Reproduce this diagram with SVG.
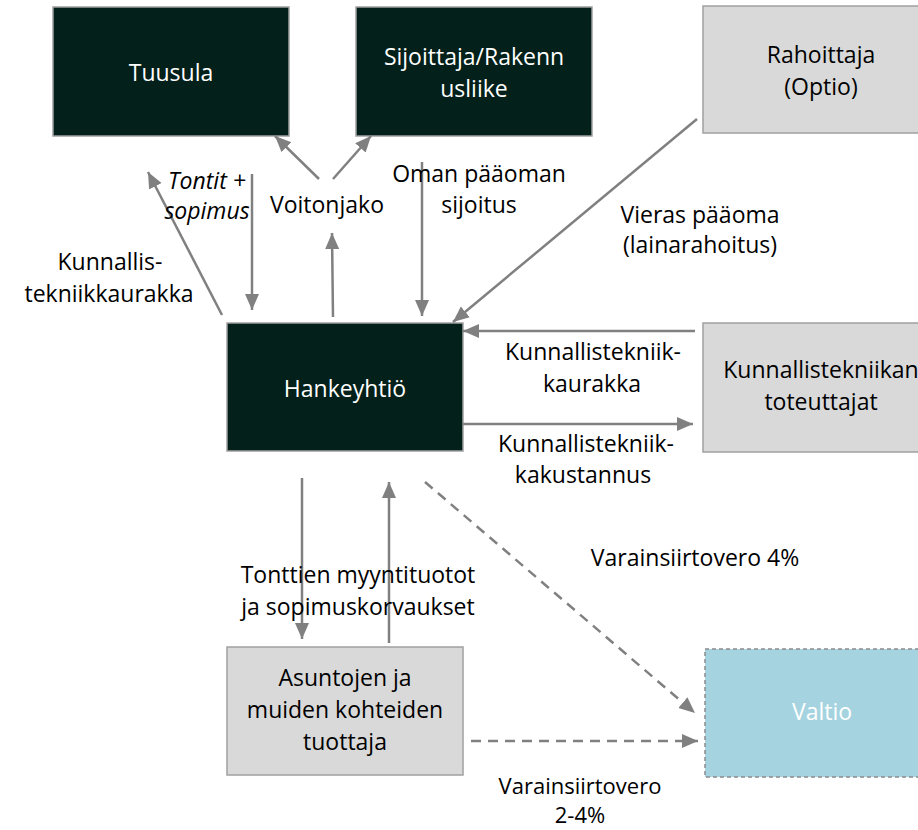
<svg xmlns="http://www.w3.org/2000/svg" width="918" height="830" viewBox="0 0 918 830">
<style>
text{font-family:"Open Sans","Noto Sans",sans-serif;font-size:23px;text-anchor:middle;fill:#000}
.dark{fill:#03201A;stroke:#A0A0A0;stroke-width:1.5}
.grey{fill:#D9D9D9;stroke:#A0A0A0;stroke-width:1.5}
.blue{fill:#A5D3E0;stroke:#8C8C8C;stroke-width:1.5;stroke-dasharray:4 3}
.w{fill:#FFFFFF}
.c{stroke:#808080;stroke-width:2.5;fill:none;marker-end:url(#ah)}
.d{stroke-dasharray:10 7}
.i{font-style:italic}
.s{font-size:22px}
</style>
<defs>
<marker id="ah" markerUnits="userSpaceOnUse" markerWidth="17" markerHeight="17" viewBox="0 0 17 17" refX="16" refY="8.5" orient="auto">
<path d="M0,1.5 L16,8.5 L0,15.5 Z" fill="#808080"/>
</marker>
</defs>
<g id="tuusula"><rect class="dark" x="53" y="7" width="236" height="129"/><text class="w" x="171" y="81">Tuusula</text></g>
<g id="sijoittaja"><rect class="dark" x="356" y="7" width="236" height="129"/><text class="w" x="474" y="65">Sijoittaja/Rakenn</text><text class="w" x="474" y="97">usliike</text></g>
<g id="rahoittaja"><rect class="grey" x="703" y="6" width="236" height="127"/><text x="821" y="63">Rahoittaja</text><text x="821" y="95">(Optio)</text></g>
<g id="hankeyhtio"><rect class="dark" x="227" y="323" width="236" height="128"/><text class="w" x="345" y="397">Hankeyhtiö</text></g>
<g id="toteuttajat"><rect class="grey" x="703" y="323" width="236" height="129"/><text x="821" y="378">Kunnallistekniikan</text><text x="821" y="410">toteuttajat</text></g>
<g id="asuntojen"><rect class="grey" x="227" y="647" width="236" height="128"/><text x="345" y="686">Asuntojen ja</text><text x="345" y="718">muiden kohteiden</text><text x="345" y="750">tuottaja</text></g>
<g id="valtio"><rect class="blue" x="705" y="649" width="236" height="128"/><text class="w" x="822" y="720">Valtio</text></g>
<g id="connectors">
<line class="c" x1="319" y1="179" x2="275" y2="136"/>
<line class="c" x1="333" y1="179" x2="371" y2="136"/>
<line class="c" x1="333" y1="317" x2="332" y2="233"/>
<line class="c" x1="252" y1="174" x2="252" y2="310"/>
<line class="c" x1="222" y1="315" x2="148" y2="172"/>
<line class="c" x1="422" y1="162" x2="422" y2="316"/>
<line class="c" x1="697" y1="119" x2="453" y2="322"/>
<line class="c" x1="695" y1="331" x2="463" y2="331"/>
<line class="c" x1="463" y1="424" x2="693" y2="424"/>
<line class="c" x1="302" y1="478" x2="302" y2="639"/>
<line class="c" x1="389" y1="643" x2="389" y2="482"/>
<line class="c d" x1="425" y1="482" x2="695" y2="713"/>
<line class="c d" x1="471" y1="741" x2="698" y2="741"/>
</g>
<g id="labels">
<text class="i" x="207" y="189">Tontit +</text>
<text class="i" x="207" y="219">sopimus</text>
<text x="327" y="213">Voitonjako</text>
<text x="479" y="182">Oman pääoman</text>
<text x="479" y="213">sijoitus</text>
<text x="110" y="270">Kunnallis-</text>
<text x="109" y="302">tekniikkaurakka</text>
<text x="700" y="223">Vieras pääoma</text>
<text x="700" y="253">(lainarahoitus)</text>
<text x="593" y="360">Kunnallistekniik-</text>
<text x="592" y="392">kaurakka</text>
<text x="586" y="452">Kunnallistekniik-</text>
<text x="583" y="483">kakustannus</text>
<text x="695" y="566">Varainsiirtovero 4%</text>
<text x="358" y="583">Tonttien myyntituotot</text>
<text x="358" y="615">ja sopimuskorvaukset</text>
<text class="s" x="580" y="794">Varainsiirtovero</text>
<text class="s" x="580" y="823">2-4%</text>
</g>
</svg>
